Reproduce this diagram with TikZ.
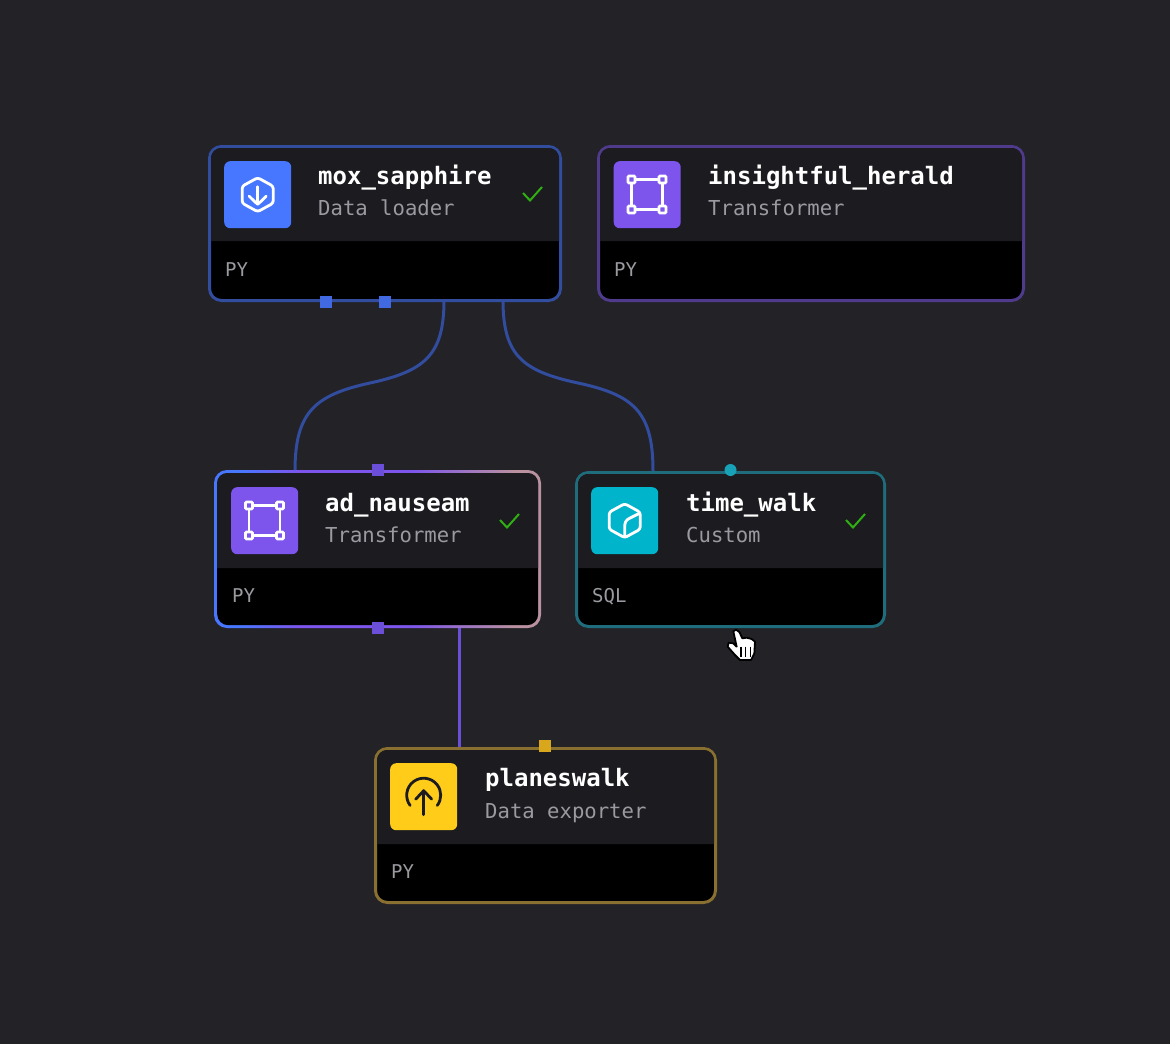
\documentclass[tikz,border=0pt]{standalone}
\usepackage{fontspec}
\setmonofont{DejaVu Sans Mono}
\definecolor{bg}{HTML}{222227}
\definecolor{band}{HTML}{1B1B20}
\definecolor{blueb}{HTML}{324C9E}
\definecolor{blueport}{HTML}{4169E1}
\definecolor{purpb}{HTML}{4F3A8C}
\definecolor{purpl}{HTML}{7D55EC}
\definecolor{purpport}{HTML}{6B4FD8}
\definecolor{tealb}{HTML}{1F6D7C}
\definecolor{cyanc}{HTML}{00B4CC}
\definecolor{cyanport}{HTML}{17A2B8}
\definecolor{goldb}{HTML}{8A7030}
\definecolor{goldport}{HTML}{D9A71C}
\definecolor{yel}{HTML}{FFCC19}
\definecolor{bluec}{HTML}{4877FF}
\definecolor{pinkb}{HTML}{B9919F}
\definecolor{subt}{HTML}{9A9AA0}
\definecolor{okc}{HTML}{2FB012}
\pgfdeclarehorizontalshading{adgrad}{100bp}{
  color(0bp)=(bluec); color(25bp)=(bluec); color(29bp)=(bluec);
  color(38bp)=(purpl); color(55bp)=(purpl); color(71bp)=(pinkb);
  color(75bp)=(pinkb); color(100bp)=(pinkb)}
\tikzset{
  x=1pt,y=-1pt,
  cardbox/.style={draw=#1,line width=3pt,fill=black,rounded corners=12pt,inner sep=0pt,anchor=north west},
  iconbox/.style={fill=#1,rounded corners=6pt,minimum width=67pt,minimum height=67pt,inner sep=0pt,anchor=north west},
  titletext/.style={anchor=base west,inner sep=0pt,text=white,font=\ttfamily\bfseries\fontsize{24}{24}\selectfont},
  subtext/.style={anchor=base west,inner sep=0pt,text=subt,font=\ttfamily\fontsize{20.6}{24}\selectfont},
  langtext/.style={anchor=base west,inner sep=0pt,text=subt,font=\ttfamily\fontsize{19}{24}\selectfont},
  portsq/.style={fill=#1,minimum size=12pt,inner sep=0pt},
  link/.style={draw=#1,line width=3pt},
  glyph/.style={draw=#1,line width=3pt,line join=round,line cap=round},
  tick/.style={draw=okc,line width=2pt},
}
\newcommand{\cardband}[4]{% x0 y0 x1 y1 (inner)
  \fill[band] (#1,#4) -- (#1,#2+10) arc[start angle=180,end angle=270,radius=10] -- (#3-10,#2) arc[start angle=270,end angle=360,radius=10] -- (#3,#4) -- cycle;}
\newcommand{\squareglyph}[2]{% centre
  \begin{scope}[shift={(#1,#2)}]
    \draw[glyph=white,line width=2.8pt] (-15.5,-15) rectangle (15.5,15);
    \foreach \cx/\cy in {-15.5/-15,15.5/-15,-15.5/15,15.5/15}
      \draw[white,line width=2.8pt,fill=purpl,rounded corners=1pt] (\cx-3.5,\cy-3.5) rectangle (\cx+3.5,\cy+3.5);
  \end{scope}}
\newcommand{\okmark}[2]{% centre
  \draw[tick] (#1-10,#2) -- (#1-3,#2+7.5) -- (#1+9,#2-6);}
\begin{document}
\begin{tikzpicture}
\useasboundingbox (0,0) rectangle (1170,1044);
\fill[bg] (0,0) rectangle (1170,1044);

% connector joints
\coordinate (moxoutA) at (444,300);
\coordinate (moxoutB) at (503,300);
\coordinate (adin) at (295,471);
\coordinate (timein) at (653,471);
\coordinate (adout) at (459,627);
\coordinate (planein) at (459,747);
\coordinate (midA) at (370,383);
\coordinate (midB) at (578,383);

\draw[link=blueb] (moxoutA) .. controls (444,355) and (425,371) .. (midA) .. controls (315,395) and (295,412) .. (adin);
\draw[link=blueb] (moxoutB) .. controls (503,355) and (522,371) .. (midB) .. controls (634,395) and (653,412) .. (timein);
\draw[link=purpport] (adout) -- (planein);

% mox_sapphire
\node[cardbox=blueb,minimum width=351pt,minimum height=154pt] (mox) at (208,145) {};
\cardband{211}{148}{559}{241}
\node[iconbox=bluec] (moxicon) at (224,161) {};
\begin{scope}[shift={(moxicon.center)}]
  \draw[glyph=white,line width=2.8pt,rounded corners=2.5pt] (0,-17) -- (15.5,-8.5) -- (15.5,8.5) -- (0,17) -- (-15.5,8.5) -- (-15.5,-8.5) -- cycle;
  \draw[glyph=white,line width=2.8pt] (0,-8) -- (0,9);
  \draw[glyph=white,line width=2.8pt] (-8.5,1.5) .. controls (-5,5) and (-2,8) .. (0,9.5) .. controls (2,8) and (5,5) .. (8.5,1.5);
\end{scope}
\node[titletext] (moxt) at (318,184) {mox\_sapphire};
\node[subtext] (moxs) at (318,215) {Data loader};
\node[langtext] (moxl) at (225,276) {PY};
\okmark{533}{193}
\node[portsq=blueport] (moxp1) at (325.5,301.5) {};
\node[portsq=blueport] (moxp2) at (385,301.5) {};

% insightful_herald
\node[cardbox=purpb,minimum width=425pt,minimum height=154pt] (ins) at (597,145) {};
\cardband{600}{148}{1022}{241}
\node[iconbox=purpl] (insicon) at (613.5,161) {};
\squareglyph{647}{194.5}
\node[titletext] (inst) at (708,184) {insightful\_herald};
\node[subtext] (inss) at (708,215) {Transformer};
\node[langtext] (insl) at (614,276) {PY};

% ad_nauseam
\shade[shading=adgrad,shading angle=0,rounded corners=13pt] (214,470) rectangle (541,628);
\node[fill=black,rounded corners=11pt,minimum width=321pt,minimum height=152pt,inner sep=0pt,anchor=north west] (ad) at (217,473) {};
\cardband{217}{473}{538}{568}
\node[iconbox=purpl] (adicon) at (231,487) {};
\squareglyph{264.5}{520.5}
\node[titletext] (adt) at (325,511) {ad\_nauseam};
\node[subtext] (ads) at (325,542) {Transformer};
\node[langtext] (adl) at (232,602) {PY};
\okmark{510}{520}
\node[portsq=purpport] (adp1) at (377.5,470) {};
\node[portsq=purpport] (adp2) at (377.5,628) {};

% time_walk
\node[cardbox=tealb,minimum width=308pt,minimum height=154pt] (tw) at (575,471) {};
\cardband{578}{474}{883}{568}
\node[iconbox=cyanc] (twicon) at (591,487) {};
\begin{scope}[shift={(twicon.center)}]
  \draw[glyph=white,line width=2.8pt,rounded corners=2.5pt] (0,-17) -- (15.5,-8.5) -- (15.5,8.5) -- (0,17) -- (-15.5,8.5) -- (-15.5,-8.5) -- cycle;
  \draw[glyph=white,line width=2.8pt] (15,-7.5) -- (6,-3) .. controls (1,-1) and (0,2) .. (0,6) -- (0,16);
\end{scope}
\node[titletext] (twt) at (686,511) {time\_walk};
\node[subtext] (tws) at (686,542) {Custom};
\node[langtext] (twl) at (592,602) {SQL};
\okmark{856}{520}
\node[circle,fill=cyanport,minimum size=12pt,inner sep=0pt] (twp) at (730.5,470) {};

% planeswalk
\node[cardbox=goldb,minimum width=340pt,minimum height=154pt] (pw) at (374,747) {};
\cardband{377}{750}{714}{844}
\node[iconbox=yel] (pwicon) at (390,763) {};
\begin{scope}[shift={(pwicon.center)}]
  \draw[glyph=band,line width=2.8pt] (0,-1.5) ++(143:17) arc[start angle=143,end angle=397,radius=17];
  \draw[glyph=band,line width=2.8pt] (0,-6) -- (0,18);
  \draw[glyph=band,line width=2.8pt] (-8,2.5) -- (0,-6) -- (8,2.5);
\end{scope}
\node[titletext] (pwt) at (485,786) {planeswalk};
\node[subtext] (pws) at (485,818) {Data exporter};
\node[langtext] (pwl) at (391,878) {PY};
\node[portsq=goldport] (pwp) at (545,746) {};

% hand cursor
\begin{scope}[shift={(570,460)},scale=1/3]
  \draw[fill=white,draw=black,line width=1.8pt,line join=round]
    (490,514) -- (498,509) -- (508,516) -- (517,535) -- (530,533) -- (545,537) -- (555,545) -- (553,580) -- (543,600) -- (510,600) -- (495,585) -- (473,560) -- (476,548) -- (490,550) -- (500,560) -- cycle;
  \foreach \hx in {513,527,541}
    \draw[black,line width=1.6pt] (\hx,560) -- (\hx,592);
\end{scope}
\end{tikzpicture}
\end{document}
